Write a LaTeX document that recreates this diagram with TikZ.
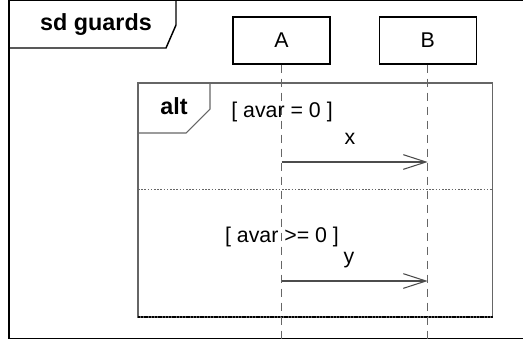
\documentclass[tikz,border=0pt]{standalone}
\usepackage{fontspec}
\setmainfont{Liberation Sans}
\usetikzlibrary{arrows.meta,positioning}

\begin{document}
\begin{tikzpicture}[x=0.75pt, y=-0.75pt,
        lifebox/.style={draw=black, line width=0.9pt, minimum width=72.75pt, minimum height=35.25pt,
        inner sep=0pt, font=\fontsize{16}{19}\selectfont},
        lifeline/.style={draw=black!60, line width=0.8pt, dash pattern=on 6pt off 4.5pt},
        msg/.style={draw=black!70, line width=0.8pt, -{Straight Barb[length=17pt,width=11pt]}},
        guard/.style={anchor=base, inner sep=0pt, font=\fontsize{16}{19}\selectfont},
        framelabel/.style={anchor=base, inner sep=0pt, font=\bfseries\fontsize{17.5}{21}\selectfont},]
    \useasboundingbox (0,0) rectangle (523,340);

    \draw [line width=1.1pt] (9,0.7) rectangle (545,338.7);
    \draw [line width=1.1pt] (176,0.7) -- (176,25) -- (166,48) -- (9,48);
    \node (guards) [framelabel] at (96,30) {sd guards};

    \node (A) [lifebox] at (281.5,40.5) {A};
    \node (B) [lifebox, right=36pt of A] {B};

    \draw [black!60, line width=0.8pt] (138,83) rectangle (492.5,317);
    \draw [black!60, line width=0.8pt] (210,83) -- (210,109) -- (186,133) -- (138,133);
    \node (alt) [framelabel] at (174,114) {alt};
    \draw [black!60, line width=0.6pt, dash pattern=on 1.2pt off 1.2pt] (138,189) -- (492.5,189);
    \draw [black, line width=0.8pt, dash pattern=on 1.5pt off 0.6pt] (138,317) -- (492.5,317);

    \coordinate (Aend) at (A.south |- 0,345);
    \coordinate (Bend) at (B.south |- 0,345);
    \draw [lifeline] (A) -- (Aend);
    \draw [lifeline] (B) -- (Bend);

    \node (avar1) [guard] at (282,117) {[ avar = 0 ]};
    \node (xlabel) [guard] at (350,144) {x};
    \coordinate (xa) at (A.south |- 0,162);
    \coordinate (xb) at (B.south |- 0,162);
    \draw [msg] (xa) -- (xb);

    \node (avar2) [guard] at (282,242) {[ avar >= 0 ]};
    \node (ylabel) [guard] at (349,263.5) {y};
    \coordinate (ya) at (A.south |- 0,281);
    \coordinate (yb) at (B.south |- 0,281);
    \draw [msg] (ya) -- (yb);
\end{tikzpicture}
\end{document}
